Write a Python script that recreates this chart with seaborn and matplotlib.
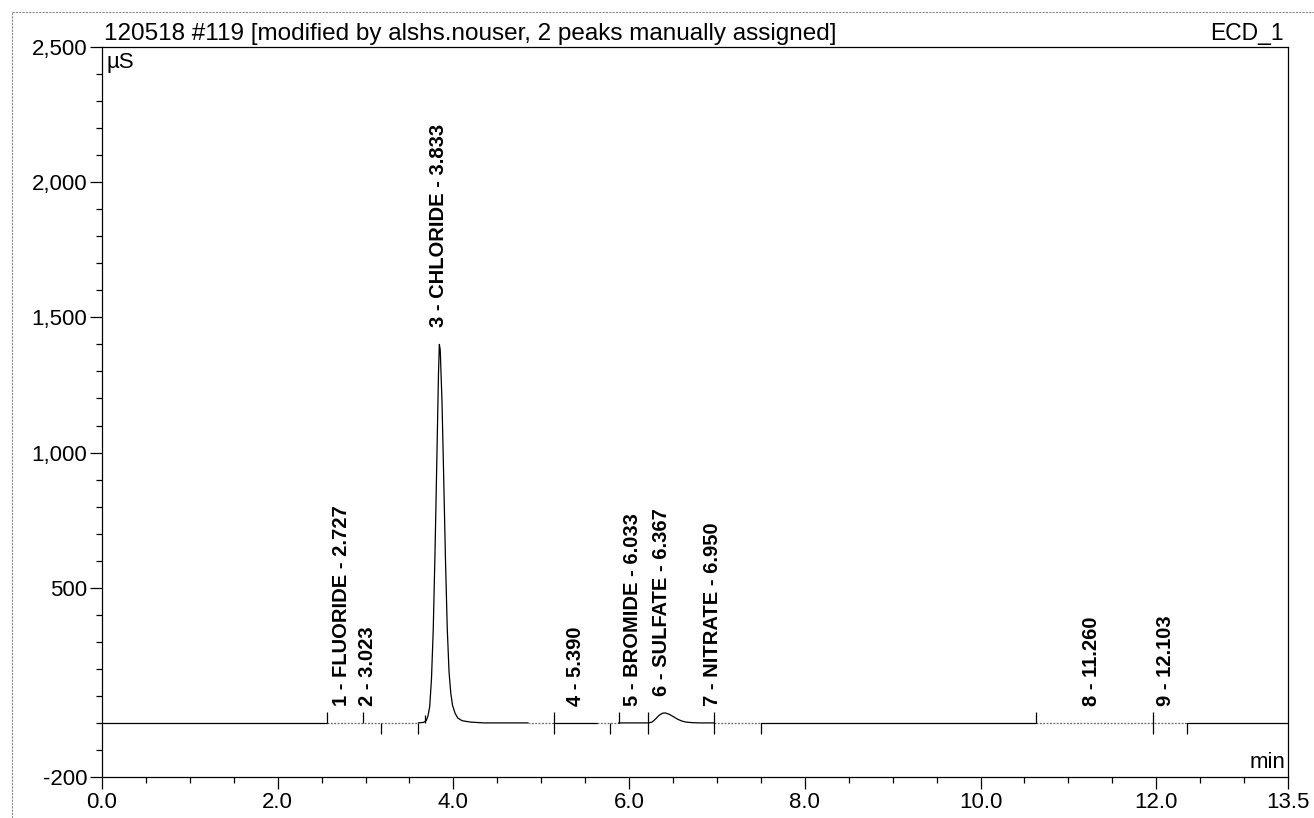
import numpy as np
import pandas as pd
import matplotlib
matplotlib.use("Agg")
import matplotlib.pyplot as plt
from matplotlib.lines import Line2D
from matplotlib.ticker import FixedLocator, MultipleLocator
import seaborn as sns

# ---------------- data ----------------
time_min = [0.0, 2.56, 2.97, 3.18, 3.60,
            3.66, 3.69, 3.71, 3.73, 3.75, 3.77, 3.79, 3.81, 3.83, 3.84, 3.85,
            3.87, 3.89, 3.91, 3.93, 3.95, 3.97, 3.99, 4.02, 4.05, 4.10, 4.20,
            4.35, 4.85, 5.14, 5.64, 5.88, 6.22,
            6.26, 6.30, 6.34, 6.38, 6.41, 6.45, 6.50, 6.55, 6.60, 6.65, 6.72,
            6.80, 6.97, 7.50, 10.63, 11.96, 12.35, 13.5]
signal_uS = [0, 0, 0, 0, 0,
             2, 8, 25, 60, 160, 340, 620, 950, 1290, 1400, 1380,
             1190, 900, 600, 350, 190, 110, 65, 35, 18, 8, 3,
             0, 0, 0, 0, 0, 0,
             3, 14, 28, 36, 37, 33, 24, 14, 7, 3, 1,
             0, 0, 0, 0, 0, 0, 0]

peak_times = [2.727, 3.023, 3.833, 5.390, 6.033, 6.367, 6.950, 11.260, 12.103]
peak_labels = ["1 - FLUORIDE - 2.727", "2 - 3.023", "3 - CHLORIDE - 3.833",
               "4 - 5.390", "5 - BROMIDE - 6.033", "6 - SULFATE - 6.367",
               "7 - NITRATE - 6.950", "8 - 11.260", "9 - 12.103"]

# peak delimiters (integration marks)
delim_time = [2.56, 2.97, 3.18, 3.60, 3.68, 5.14, 5.78, 5.88, 6.22, 6.97, 7.50, 10.63, 11.96, 12.35]
delim_low = [0, 0, -40, -40, 0, -40, -40, 0, -40, -40, -40, 0, -40, -40]
delim_high = [40, 40, 0, 0, 30, 40, 0, 40, 40, 40, 0, 40, 40, 0]

# trace boundaries: segments alternate solid / dotted (integrated windows)
seg_bounds = [0.0, 2.56, 3.60, 4.85, 5.14, 5.64, 5.88, 6.97, 7.50, 10.63, 12.35, 13.5]

x_major = [0.0, 2.0, 4.0, 6.0, 8.0, 10.0, 12.0, 13.5]
x_major_labels = ["0.0", "2.0", "4.0", "6.0", "8.0", "10.0", "12.0", "13.5"]
y_major = [-200, 500, 1000, 1500, 2000, 2500]
y_major_labels = ["-200", "500", "1,000", "1,500", "2,000", "2,500"]

title_text = "120518 #119 [modified by alshs.nouser, 2 peaks manually assigned]"
channel_text = "ECD_1"

# ---------------- styling ----------------
sns.set_style("white")
plt.rcParams["font.family"] = ["Liberation Sans", "DejaVu Sans"]

W, H = 1314, 818
fig = plt.figure(figsize=(W / 100, H / 100), dpi=100)
ax = fig.add_axes([102 / W, (H - 777) / H, (1288 - 102) / W, (777 - 47) / H])

df = pd.DataFrame({"time": time_min, "signal": signal_uS})
for i in range(len(seg_bounds) - 1):
    seg = df[(df.time >= seg_bounds[i]) & (df.time <= seg_bounds[i + 1])]
    dotted = (i % 2 == 1)
    sns.lineplot(data=seg, x="time", y="signal", ax=ax, estimator=None, sort=False,
                 color="#666666" if dotted else "black", lw=0.9,
                 linestyle=(0, (1.5, 1.2)) if dotted else "-", legend=False)

ax.vlines(delim_time, delim_low, delim_high, color="black", lw=0.9)

t_arr = np.asarray(time_min)
s_arr = np.asarray(signal_uS)
for t, lab in zip(peak_times, peak_labels):
    near = np.abs(t_arr - t) <= 0.03
    yv = max(np.interp(t, t_arr, s_arr), s_arr[near].max() if near.any() else 0)
    ax.annotate(lab, xy=(t, yv), xytext=(0, 17), textcoords="offset pixels",
                rotation=90, ha="center", va="bottom", fontsize=14.5,
                fontweight="bold", color="black")

ax.set_xlim(0, 13.5)
ax.set_ylim(-200, 2500)
ax.set_xlabel("")
ax.set_ylabel("")

ax.xaxis.set_major_locator(FixedLocator(x_major))
ax.set_xticklabels(x_major_labels)
ax.xaxis.set_minor_locator(MultipleLocator(0.5))
ax.yaxis.set_major_locator(FixedLocator(y_major))
ax.set_yticklabels(y_major_labels)
ax.yaxis.set_minor_locator(MultipleLocator(100))

ax.tick_params(axis="both", which="major", direction="out", length=8.5, width=0.9,
               color="black", labelsize=16, pad=2, labelcolor="black")
ax.tick_params(axis="both", which="minor", direction="out", length=4.5, width=0.9,
               color="black")
ax.tick_params(axis="x", which="both", bottom=True)
ax.tick_params(axis="y", which="both", left=True)

for s in ax.spines.values():
    s.set_color("black")
    s.set_linewidth(0.9)
    s.set_visible(True)

# texts around the plot
ax.text(0.0015, 1.003, title_text, transform=ax.transAxes, ha="left", va="bottom",
        fontsize=17.5, color="black")
ax.text(0.996, 1.003, channel_text, transform=ax.transAxes, ha="right", va="bottom",
        fontsize=16.5, color="black")
ax.text(0.004, 0.993, "µS", transform=ax.transAxes, ha="left", va="top",
        fontsize=16, color="black")
ax.text(0.998, 0.006, "min", transform=ax.transAxes, ha="right", va="bottom",
        fontsize=16, color="black")

# outer page frame (dotted gray)
fig.add_artist(Line2D([12 / W, 12 / W], [0, 1 - 12 / H], transform=fig.transFigure,
                      color="#888888", lw=0.8, linestyle=(0, (2, 1))))
fig.add_artist(Line2D([12 / W, 1], [1 - 12 / H, 1 - 12 / H], transform=fig.transFigure,
                      color="#888888", lw=0.8, linestyle=(0, (2, 1))))

fig.savefig("out.png", dpi=100)
